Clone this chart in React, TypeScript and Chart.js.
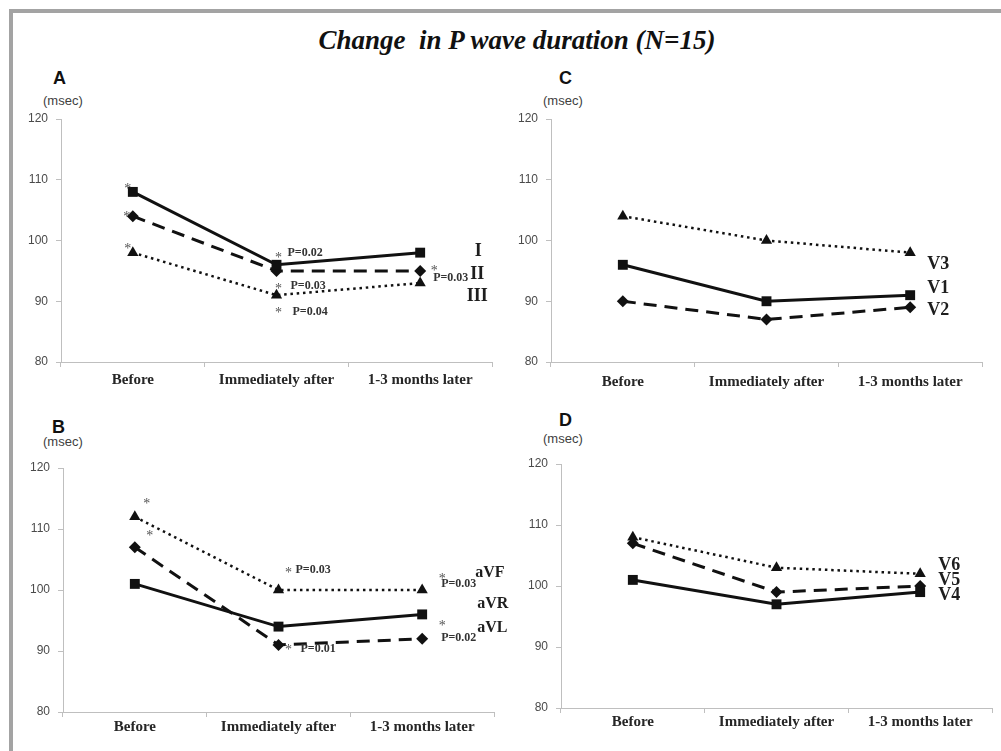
import React, { useEffect, useRef } from "react";
import { Chart, registerables } from "chart.js";

Chart.register(...registerables);

// ---------------- data ----------------
const categories = ["Before", "Immediately after", "1-3 months later"];
const yTickValues = [80, 90, 100, 110, 120];
const titleText = "Change  in P wave duration (N=15)";
const unitText = "(msec)";

// Panel A (limb leads I, II, III)
const namesA = ["I", "II", "III"];
const leadI = [108, 96, 98];
const leadII = [104, 95, 95];
const leadIII = [98, 91, 93];

// Panel B (aVF, aVR, aVL)
const namesB = ["aVF", "aVR", "aVL"];
const leadAVF = [112, 100, 100];
const leadAVR = [101, 94, 96];
const leadAVL = [107, 91, 92];

// Panel C (V1, V2, V3)
const namesC = ["V1", "V2", "V3"];
const leadV1 = [96, 90, 91];
const leadV2 = [90, 87, 89];
const leadV3 = [104, 100, 98];

// Panel D (V4, V5, V6)
const namesD = ["V4", "V5", "V6"];
const leadV4 = [101, 97, 99];
const leadV5 = [107, 99, 100];
const leadV6 = [108, 103, 102];

// p-values shown next to the marked points
const pA = ["P=0.02", "P=0.03", "P=0.04", "P=0.03"];
const pB = ["P=0.03", "P=0.03", "P=0.02", "P=0.01"];

// ---------------- styles ----------------
type LineKind = "solid" | "dashed" | "dotted";
const lineStyle: Record<LineKind, any> = {
  solid: { borderWidth: 3, borderDash: [], pointStyle: "rect", pointRadius: 7 },
  dashed: { borderWidth: 3, borderDash: [13, 8], pointStyle: "rectRot", pointRadius: 6 },
  dotted: { borderWidth: 2.5, borderDash: [2.5, 3.8], pointStyle: "triangle", pointRadius: 6.5 },
};

type Annot = { kind: "star" | "p" | "label"; text: string; s: number; i: number; dx: number; dy: number; align?: CanvasTextAlign };

const textStyle = {
  star: { font: "14px 'Liberation Serif'", size: 14, color: "#555555", shift: 0.52 },
  p: { font: "bold 12px 'Liberation Serif'", size: 12, color: "#333333", shift: 0.33 },
};

function makeAnnotPlugin(items: Annot[], labelSize: number) {
  return {
    id: "annot",
    afterDatasetsDraw(chart: any) {
      const ctx = chart.ctx as CanvasRenderingContext2D;
      const xs = chart.scales.x;
      const ys = chart.scales.y;
      items.forEach((it) => {
        const v = chart.data.datasets[it.s].data[it.i];
        const px = xs.getPixelForValue(it.i) + it.dx;
        const py = ys.getPixelForValue(v) + it.dy;
        let font: string, size: number, color: string, shift: number;
        if (it.kind === "label") {
          font = `bold ${labelSize}px 'Liberation Serif'`;
          size = labelSize;
          color = "#1e1e1e";
          shift = 0.33;
        } else {
          const st = textStyle[it.kind];
          font = st.font;
          size = st.size;
          color = st.color;
          shift = st.shift;
        }
        ctx.save();
        ctx.font = font;
        ctx.fillStyle = color;
        ctx.textAlign = it.align || (it.kind === "p" ? "left" : "center");
        ctx.textBaseline = "alphabetic";
        ctx.fillText(it.text, px, py + size * shift);
        ctx.restore();
      });
    },
  };
}

type PanelSpec = {
  x: number; y: number; w: number; h: number;
  yAxisW: number; padTop: number; padRight: number; xAxisH: number; xPad: number;
  series: { name: string; data: number[]; kind: LineKind }[];
  annots: Annot[];
  labelSize: number;
};

const panels: PanelSpec[] = [
  {
    x: 0, y: 60, w: 500, h: 340, yAxisW: 61, padTop: 59, padRight: 8, xAxisH: 38, xPad: 4,
    series: [
      { name: namesA[0], data: leadI, kind: "solid" },
      { name: namesA[1], data: leadII, kind: "dashed" },
      { name: namesA[2], data: leadIII, kind: "dotted" },
    ],
    labelSize: 18,
    annots: [
      { kind: "star", text: "*", s: 0, i: 0, dx: -5, dy: -6 },
      { kind: "star", text: "*", s: 1, i: 0, dx: -6, dy: -2 },
      { kind: "star", text: "*", s: 2, i: 0, dx: -5, dy: -7 },
      { kind: "star", text: "*", s: 0, i: 1, dx: 2, dy: -10 },
      { kind: "p", text: pA[0], s: 0, i: 1, dx: 11, dy: -13 },
      { kind: "star", text: "*", s: 2, i: 1, dx: 2, dy: -9 },
      { kind: "p", text: pA[1], s: 2, i: 1, dx: 14, dy: -10 },
      { kind: "star", text: "*", s: 2, i: 1, dx: 2, dy: 15 },
      { kind: "p", text: pA[2], s: 2, i: 1, dx: 16, dy: 16 },
      { kind: "star", text: "*", s: 1, i: 2, dx: 14, dy: -3 },
      { kind: "p", text: pA[3], s: 1, i: 2, dx: 13, dy: 6 },
      { kind: "label", text: namesA[0], s: 0, i: 2, dx: 58, dy: -3 },
      { kind: "label", text: namesA[1], s: 1, i: 2, dx: 57, dy: 2 },
      { kind: "label", text: namesA[2], s: 2, i: 2, dx: 57, dy: 12 },
    ],
  },
  {
    x: 500, y: 60, w: 501, h: 340, yAxisW: 51, padTop: 59, padRight: 19, xAxisH: 38, xPad: 6,
    series: [
      { name: namesC[0], data: leadV1, kind: "solid" },
      { name: namesC[1], data: leadV2, kind: "dashed" },
      { name: namesC[2], data: leadV3, kind: "dotted" },
    ],
    labelSize: 18,
    annots: [
      { kind: "label", text: namesC[2], s: 2, i: 2, dx: 28, dy: 10 },
      { kind: "label", text: namesC[0], s: 0, i: 2, dx: 28, dy: -8 },
      { kind: "label", text: namesC[1], s: 1, i: 2, dx: 28, dy: 2 },
    ],
  },
  {
    x: 0, y: 410, w: 520, h: 341, yAxisW: 63, padTop: 58, padRight: 26, xAxisH: 39, xPad: 1,
    series: [
      { name: namesB[0], data: leadAVF, kind: "dotted" },
      { name: namesB[1], data: leadAVR, kind: "solid" },
      { name: namesB[2], data: leadAVL, kind: "dashed" },
    ],
    labelSize: 16,
    annots: [
      { kind: "star", text: "*", s: 0, i: 0, dx: 12, dy: -16 },
      { kind: "star", text: "*", s: 2, i: 0, dx: 15, dy: -15 },
      { kind: "star", text: "*", s: 0, i: 1, dx: 10, dy: -20 },
      { kind: "p", text: pB[0], s: 0, i: 1, dx: 17, dy: -21 },
      { kind: "star", text: "*", s: 0, i: 2, dx: 20, dy: -14 },
      { kind: "p", text: pB[1], s: 0, i: 2, dx: 19, dy: -7 },
      { kind: "star", text: "*", s: 2, i: 2, dx: 20, dy: -16 },
      { kind: "p", text: pB[2], s: 2, i: 2, dx: 19, dy: -2 },
      { kind: "star", text: "*", s: 2, i: 1, dx: 10, dy: 2 },
      { kind: "p", text: pB[3], s: 2, i: 1, dx: 22, dy: 3 },
      { kind: "label", text: namesB[0], s: 0, i: 2, dx: 53, dy: -18, align: "left" },
      { kind: "label", text: namesB[1], s: 1, i: 2, dx: 55, dy: -12, align: "left" },
      { kind: "label", text: namesB[2], s: 2, i: 2, dx: 55, dy: -12, align: "left" },
    ],
  },
  {
    x: 500, y: 410, w: 501, h: 341, yAxisW: 61, padTop: 54, padRight: 9, xAxisH: 43, xPad: 0,
    series: [
      { name: namesD[0], data: leadV4, kind: "solid" },
      { name: namesD[1], data: leadV5, kind: "dashed" },
      { name: namesD[2], data: leadV6, kind: "dotted" },
    ],
    labelSize: 18,
    annots: [
      { kind: "label", text: namesD[2], s: 2, i: 2, dx: 29, dy: -10 },
      { kind: "label", text: namesD[1], s: 1, i: 2, dx: 29, dy: -7 },
      { kind: "label", text: namesD[0], s: 0, i: 2, dx: 29, dy: 2 },
    ],
  },
];

const panelLetters = [
  { t: "A", x: 53, y: 69 },
  { t: "C", x: 559, y: 69 },
  { t: "B", x: 52, y: 418 },
  { t: "D", x: 559, y: 411 },
];
const unitLabels = [
  { x: 43, y: 94 },
  { x: 543, y: 94 },
  { x: 43, y: 435 },
  { x: 543, y: 432 },
];

function Panel({ spec }: { spec: PanelSpec }) {
  const ref = useRef<HTMLCanvasElement>(null);
  useEffect(() => {
    const canvas = ref.current!;
    const axisColor = "#bfbfbf";
    const chart = new Chart(canvas, {
      type: "line",
      data: {
        labels: categories,
        datasets: spec.series.map((s) => ({
          label: s.name,
          data: s.data,
          borderColor: "#111111",
          backgroundColor: "#111111",
          pointBackgroundColor: "#111111",
          pointBorderColor: "#111111",
          pointBorderWidth: 0,
          tension: 0,
          fill: false,
          ...lineStyle[s.kind],
        })),
      },
      options: {
        responsive: false,
        animation: false,
        devicePixelRatio: 1,
        layout: { padding: { left: 0, top: spec.padTop, right: spec.padRight, bottom: 0 } },
        plugins: { legend: { display: false }, tooltip: { enabled: false }, title: { display: false } },
        scales: {
          x: {
            type: "category",
            offset: true,
            grid: { display: true, offset: true, drawOnChartArea: false, drawTicks: true, tickLength: 5, color: axisColor, lineWidth: 1 },
            border: { display: true, color: axisColor, width: 1 },
            ticks: {
              color: "#262626",
              font: { family: "'Liberation Serif'", size: 15, weight: "bold" },
              padding: spec.xPad,
              maxRotation: 0,
              autoSkip: false,
            },
            afterFit: (s: any) => { s.height = spec.xAxisH; },
          },
          y: {
            type: "linear",
            min: 80,
            max: 120,
            grid: { display: true, drawOnChartArea: false, drawTicks: true, tickLength: 5, color: axisColor, lineWidth: 1 },
            border: { display: true, color: axisColor, width: 1 },
            ticks: {
              color: "#4a4a4a",
              font: { family: "'Liberation Sans'", size: 12 },
              padding: 8,
            },
            afterBuildTicks: (s: any) => { s.ticks = yTickValues.map((v) => ({ value: v })); },
            afterFit: (s: any) => { s.width = spec.yAxisW; },
          },
        },
      },
      plugins: [makeAnnotPlugin(spec.annots, spec.labelSize)],
    } as any);
    return () => chart.destroy();
  }, [spec]);
  return (
    <canvas
      ref={ref}
      width={spec.w}
      height={spec.h}
      style={{ position: "absolute", left: spec.x, top: spec.y, width: spec.w, height: spec.h }}
    />
  );
}

export default function App() {
  return (
    <div style={{ position: "absolute", left: 0, top: 0, width: 1001, height: 751, background: "#ffffff", overflow: "hidden" }}>
      <div
        style={{
          position: "absolute", left: 9, top: 9, width: 1000, height: 739,
          borderTop: "4px solid #a3a3a3", borderLeft: "4px solid #a3a3a3", borderBottom: "1px solid #e2e2e2",
        }}
      />
      <div
        style={{
          position: "absolute", left: 0, top: 27, width: 1034, textAlign: "center",
          font: "italic bold 27px 'Liberation Serif'", lineHeight: "27px", whiteSpace: "pre", color: "#111",
        }}
      >
        {titleText}
      </div>
      {panelLetters.map((l) => (
        <div key={l.t} style={{ position: "absolute", left: l.x, top: l.y, font: "bold 18px 'Liberation Sans'", lineHeight: "18px", color: "#111" }}>
          {l.t}
        </div>
      ))}
      {unitLabels.map((u, k) => (
        <div key={k} style={{ position: "absolute", left: u.x, top: u.y, font: "13px 'Liberation Sans'", lineHeight: "13px", color: "#404040" }}>
          {unitText}
        </div>
      ))}
      {panels.map((p, k) => (
        <Panel key={k} spec={p} />
      ))}
    </div>
  );
}
